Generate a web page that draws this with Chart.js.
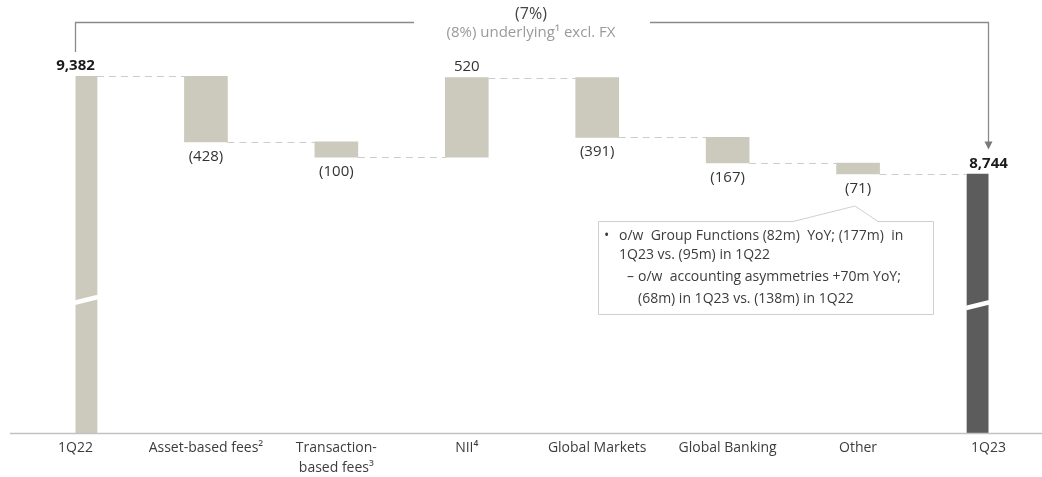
<!DOCTYPE html>
<html>
<head>
<meta charset="utf-8">
<script src="https://cdn.jsdelivr.net/npm/chart.js@4"></script>
<style>
  html, body { margin:0; padding:0; background:#fff; }
  #wrap { width:1042px; height:477px; position:relative; }
</style>
</head>
<body>
<div id="wrap"><canvas id="c" width="1042" height="477"></canvas></div>
<script>
// ---- data ----
const categories = ["1Q22", "Asset-based fees²", ["Transaction-", "based fees³"], "NII⁴", "Global Markets", "Global Banking", "Other", "1Q23"];
const startTotal = 9382;
const deltas = [-428, -100, 520, -391, -167, -71];
const endTotal = 8744;
const valueLabels = ["9,382", "(428)", "(100)", "520", "(391)", "(167)", "(71)", "8,744"];
const changeLabel = "(7%)";
const underlyingLabel = "(8%) underlying¹ excl. FX";
const noteLines = [
  ["•", "o/w  Group Functions (82m)  YoY; (177m)  in"],
  ["", "1Q23 vs. (95m) in 1Q22"],
  ["–", "o/w  accounting asymmetries +70m YoY;"],
  ["", "(68m) in 1Q23 vs. (138m) in 1Q22"]
];

const AXIS_MIN = 7051, AXIS_MAX = 9816;
const FONT = "'Open Sans', 'Noto Sans', sans-serif";

// floating bars built from the arrays
const ranges = [];
const levels = [];
ranges.push([AXIS_MIN, startTotal]);
let run = startTotal;
levels.push(run);
deltas.forEach(d => {
  const from = run; run += d;
  ranges.push([Math.min(from, run), Math.max(from, run)]);
  levels.push(run);
});
ranges.push([AXIS_MIN, endTotal]);
levels.push(endTotal);

const colors = categories.map((c, i) => i === categories.length - 1 ? '#5b5c5b' : '#cccabd');

const overlay = {
  id: 'overlay',
  afterDatasetsDraw(chart) {
    const ctx = chart.ctx;
    const meta = chart.getDatasetMeta(0);
    const y = chart.scales.y;
    const bars = meta.data;
    ctx.save();
    // axis line
    ctx.strokeStyle = '#c2c2c2';
    ctx.lineWidth = 1.5;
    ctx.beginPath();
    ctx.moveTo(10, chart.chartArea.bottom + 0.5);
    ctx.lineTo(1042, chart.chartArea.bottom + 0.5);
    ctx.stroke();

    // connectors
    ctx.strokeStyle = '#cccccc';
    ctx.lineWidth = 1.2;
    ctx.setLineDash([7, 5]);
    for (let i = 0; i < bars.length - 1; i++) {
      const b = bars[i], n = bars[i + 1];
      const yy = Math.round(y.getPixelForValue(levels[i])) + 0.5;
      ctx.beginPath();
      ctx.moveTo(b.x + b.width / 2, yy);
      ctx.lineTo(n.x - n.width / 2, yy);
      ctx.stroke();
    }
    ctx.setLineDash([]);

    // break marks on total bars
    [0, bars.length - 1].forEach(i => {
      const b = bars[i];
      const l = b.x - b.width / 2 - 1, r = b.x + b.width / 2 + 1;
      const base = chart.chartArea.bottom - 125;
      ctx.strokeStyle = '#ffffff';
      ctx.lineWidth = 4.5;
      ctx.beginPath();
      ctx.moveTo(l, base);
      ctx.lineTo(r, base - 11);
      ctx.stroke();
    });

    // value labels
    ctx.textAlign = 'center';
    ctx.textBaseline = 'middle';
    bars.forEach((b, i) => {
      const total = (i === 0 || i === bars.length - 1);
      const neg = !total && deltas[i - 1] < 0;
      const top = Math.min(b.y, b.base), bot = Math.max(b.y, b.base);
      ctx.font = (total ? 'bold ' : '') + '15px ' + FONT;
      ctx.fillStyle = total ? '#1a1a1a' : '#333333';
      const ty = neg ? bot + 14.5 : top - 10.5;
      ctx.fillText(valueLabels[i], b.x, ty);
    });

    // top bracket
    const x0 = bars[0].x, x1 = bars[bars.length - 1].x;
    const topY = 22.5;
    ctx.strokeStyle = '#8a8a8a';
    ctx.lineWidth = 1.3;
    ctx.beginPath();
    ctx.moveTo(x0, 52); ctx.lineTo(x0, topY); ctx.lineTo(414, topY);
    ctx.moveTo(650, topY); ctx.lineTo(x1, topY); ctx.lineTo(x1, 143);
    ctx.stroke();
    ctx.fillStyle = '#7a7a7a';
    ctx.beginPath();
    ctx.moveTo(x1 - 4, 141.5); ctx.lineTo(x1 + 4, 141.5); ctx.lineTo(x1, 149.5);
    ctx.closePath(); ctx.fill();

    ctx.font = '16px ' + FONT;
    ctx.fillStyle = '#444444';
    ctx.fillText(changeLabel, 531, 14);
    ctx.font = '15px ' + FONT;
    ctx.fillStyle = '#9a9a9a';
    ctx.fillText(underlyingLabel, 531, 33);

    // callout
    ctx.strokeStyle = '#cfcfcf';
    ctx.lineWidth = 1;
    ctx.fillStyle = '#ffffff';
    ctx.beginPath();
    ctx.moveTo(598.5, 221.5);
    ctx.lineTo(793, 221.5);
    ctx.lineTo(855, 206);
    ctx.lineTo(878, 221.5);
    ctx.lineTo(933.5, 221.5);
    ctx.lineTo(933.5, 314.5);
    ctx.lineTo(598.5, 314.5);
    ctx.closePath();
    ctx.fill();
    ctx.stroke();
    ctx.textAlign = 'left';
    ctx.fillStyle = '#3c3c3c';
    ctx.font = '14px ' + FONT;
    const ys = [236, 255, 277, 299];
    noteLines.forEach((ln, i) => {
      const nested = i >= 2;
      if (ln[0]) ctx.fillText(ln[0], nested ? 627 : 604, ys[i]);
      ctx.fillText(ln[1], nested ? 638 : 619, ys[i]);
    });
    ctx.restore();
  }
};

new Chart(document.getElementById('c'), {
  type: 'bar',
  data: {
    labels: categories,
    datasets: [{
      data: ranges,
      backgroundColor: colors,
      borderWidth: 0,
      barThickness: 43
    }]
  },
  options: {
    responsive: false,
    animation: false,
    layout: { padding: { left: 75.5, right: 53.5, top: 10, bottom: 0 } },
    plugins: { legend: { display: false }, tooltip: { enabled: false } },
    scales: {
      x: {
        offset: false,
        grid: { display: false, drawTicks: false },
        border: { display: false },
        afterFit(scale) { scale.height = 44; },
        ticks: {
          padding: 5,
          color: '#3c3c3c',
          font: { family: FONT, size: 14, lineHeight: 1.43 },
          maxRotation: 0, autoSkip: false
        }
      },
      y: {
        display: false,
        min: AXIS_MIN, max: AXIS_MAX
      }
    }
  },
  plugins: [overlay]
});
</script>
</body>
</html>
